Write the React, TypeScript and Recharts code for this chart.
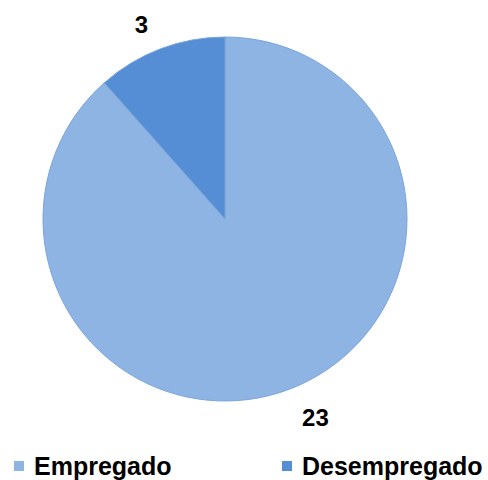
import React from "react";
import { PieChart, Pie, Cell, Legend } from "recharts";

const categories = ["Empregado", "Desempregado"];
const values = [23, 3];
const colors = ["#8EB4E3", "#558ED5"];

const data = categories.map((name, i) => ({ name, value: values[i] }));

const RAD = Math.PI / 180;

const renderLabel = (props: any) => {
  const { cx, cy, midAngle, outerRadius, value } = props;
  const r = outerRadius + 28;
  const c = Math.cos(-midAngle * RAD);
  const s = Math.sin(-midAngle * RAD);
  const halfW = String(value).length * 7 + 2;
  const x = cx + r * c + Math.sign(c) * halfW;
  const y = cy + r * s + 2;
  return (
    <text
      x={x}
      y={y}
      textAnchor="middle"
      dominantBaseline="central"
      fontFamily="Liberation Sans, Arial, sans-serif"
      fontWeight="bold"
      fontSize={24}
      fill="#000"
    >
      {value}
    </text>
  );
};

const renderLegend = () => (
  <div style={{ display: "flex", paddingLeft: 14, fontFamily: "Liberation Sans, Arial, sans-serif", fontWeight: "bold", fontSize: 25, color: "#000", lineHeight: "30px", whiteSpace: "nowrap" }}>
    {data.map((d, i) => (
      <div key={d.name} style={{ display: "flex", alignItems: "center", flexShrink: 0, width: i === 0 ? 268 : "auto" }}>
        <span style={{ display: "inline-block", flexShrink: 0, width: 10, height: 10, background: colors[i], marginRight: 10 }} />
        <span>{d.name}</span>
      </div>
    ))}
  </div>
);

export default function App() {
  return (
    <div style={{ position: "absolute", left: 0, top: 0 }}>
      <PieChart width={488} height={480} margin={{ top: 0, right: 0, bottom: 0, left: 0 }}>
        <Pie
          data={data}
          dataKey="value"
          nameKey="name"
          cx={225}
          cy={219}
          outerRadius={182}
          startAngle={90}
          endAngle={-270}
          stroke="#7AA5DC"
          strokeWidth={1}
          label={renderLabel}
          labelLine={false}
          isAnimationActive={false}
        >
          {data.map((d, i) => (
            <Cell key={d.name} fill={colors[i]} />
          ))}
        </Pie>
        <Legend
          verticalAlign="bottom"
          content={renderLegend}
          wrapperStyle={{ position: "absolute", left: 0, top: 451, width: 488, height: 30 }}
        />
      </PieChart>
    </div>
  );
}
